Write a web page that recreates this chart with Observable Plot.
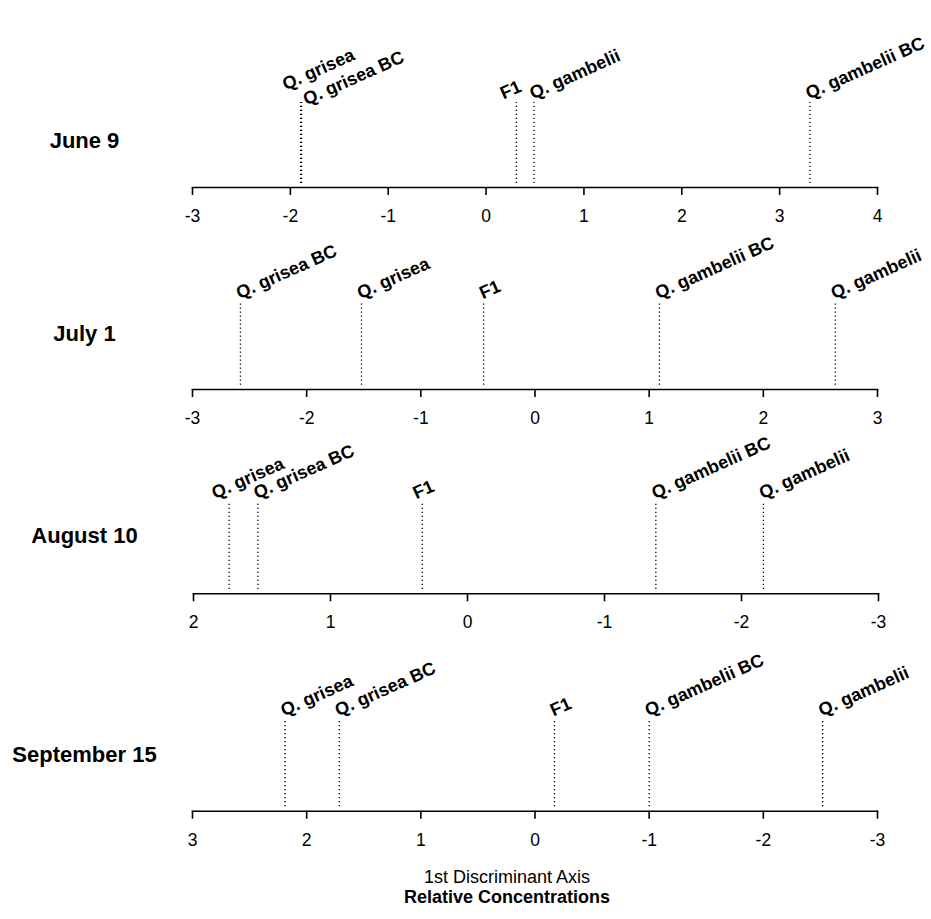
<!DOCTYPE html>
<html><head><meta charset="utf-8">
<script src="https://cdn.jsdelivr.net/npm/d3@7"></script>
<script src="https://cdn.jsdelivr.net/npm/@observablehq/plot@0.6"></script>
<style>
body{margin:0;background:#fff;font-family:"Liberation Sans",Arial,Helvetica,sans-serif;}
#wrap{position:relative;width:931px;height:919px;overflow:hidden;}
#wrap svg{position:absolute;left:0;overflow:visible;background:none;}
.cap{position:absolute;left:507px;transform:translateX(-50%);font-size:18px;white-space:nowrap;color:#000;line-height:20px;}
</style></head><body><div id="wrap"></div>
<script>
// ---- data ----
const dates = ["June 9", "July 1", "August 10", "September 15"];
const taxa = ["Q. grisea", "Q. grisea BC", "F1", "Q. gambelii BC", "Q. gambelii"];
const june9 = [-1.895, -1.885, 0.31, 3.31, 0.49];
const july1 = [-1.52, -2.58, -0.45, 1.09, 2.63];
const august10 = [1.74, 1.53, 0.33, -1.375, -2.16];
const september15 = [2.19, 1.715, -0.17, -1.00, -2.52];
const xDomains = [[-3, 4], [-3, 3], [2, -3], [3, -3]];
const xTicks = [
  [-3, -2, -1, 0, 1, 2, 3, 4],
  [-3, -2, -1, 0, 1, 2, 3],
  [2, 1, 0, -1, -2, -3],
  [3, 2, 1, 0, -1, -2, -3]
];
const axisTitle = "1st Discriminant Axis";
const subTitle = "Relative Concentrations";

// ---- layout (styling) ----
const series = [june9, july1, august10, september15];
const geom = [
  {top: 0,   height: 226, lineTop: 102,  axis: 187,   left: 192, right: 877, dateDy: -47},
  {top: 226, height: 204, lineTop: 75.7, axis: 163,   left: 192, right: 877, dateDy: -56},
  {top: 430, height: 206, lineTop: 71.7, axis: 163.3, left: 193, right: 878, dateDy: -58},
  {top: 636, height: 215, lineTop: 83,   axis: 174.7, left: 192, right: 877, dateDy: -56}
];
const nudge = {"0|Q. grisea": [-14, -9], "0|Q. grisea BC": [6, 6], "0|F1": [-12, 0], "2|Q. grisea": [-13, 0], "2|F1": [-5, 0]};
const FONT = '"Liberation Sans", Arial, Helvetica, sans-serif';

const wrap = document.getElementById("wrap");
series.forEach((vals, i) => {
  const g = geom[i];
  const rows = taxa.map((t, k) => {
    const n = nudge[i + "|" + t] || [0, 0];
    return {taxon: t, value: vals[k], dx: n[0], dy: n[1]};
  });
  const textMarks = rows.map(r => Plot.text([r], {
    x: "value", y: 1, text: "taxon", textAnchor: "start", lineAnchor: "bottom", rotate: -24,
    dx: r.dx - 1, dy: r.dy - 3, fontSize: 18, fontWeight: "bold", fill: "#000"
  }));
  const plot = Plot.plot({
    width: 931,
    height: g.height,
    marginLeft: g.left,
    marginRight: 931 - g.right,
    marginTop: g.lineTop,
    marginBottom: g.height - g.axis,
    style: {fontFamily: FONT, background: "none", overflow: "visible", color: "#000"},
    x: {domain: xDomains[i]},
    y: {domain: [-0.05, 1], axis: null},
    marks: [
      Plot.ruleX(rows, {x: "value", y1: 0, y2: 1, stroke: "#000", strokeWidth: 1.3, strokeDasharray: "1.3,2.7"}),
      ...textMarks,
      Plot.frame({anchor: "bottom", stroke: "#000", strokeWidth: 1.6}),
      Plot.axisX({ticks: xTicks[i], tickFormat: d => String(d), tickSize: 8, tickPadding: 14,
        fontSize: 17.5, strokeWidth: 1.6, label: null}),
      Plot.text([dates[i]], {text: d => d, frameAnchor: "bottom-left", textAnchor: "middle", lineAnchor: "middle",
        dx: 84 - g.left, dy: g.dateDy, fontSize: 22, fontWeight: "bold", fill: "#000"})
    ]
  });
  plot.style.top = g.top + "px";
  wrap.appendChild(plot);
});

const c1 = document.createElement("div");
c1.className = "cap"; c1.style.top = "867px"; c1.textContent = axisTitle;
const c2 = document.createElement("div");
c2.className = "cap"; c2.style.top = "887px"; c2.style.fontWeight = "bold"; c2.textContent = subTitle;
wrap.appendChild(c1); wrap.appendChild(c2);
</script>
</body></html>
